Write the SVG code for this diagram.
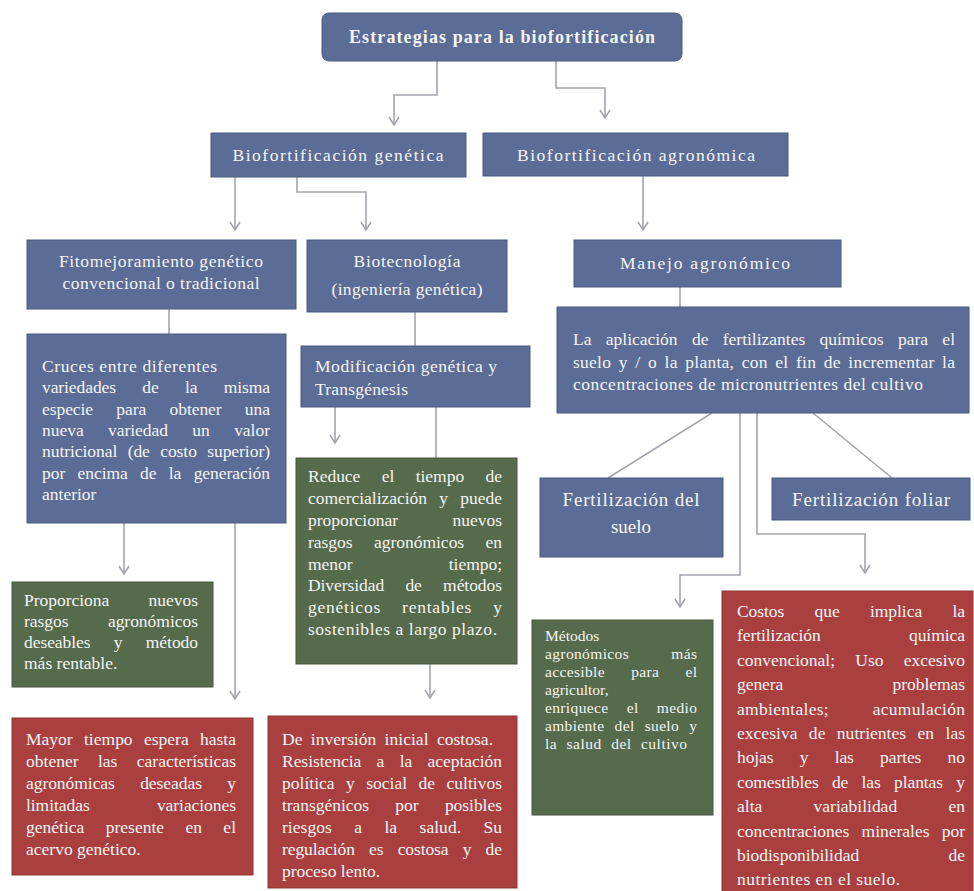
<svg xmlns="http://www.w3.org/2000/svg" width="974" height="891" viewBox="0 0 974 891">
<defs>
<style>
.blue{fill:#5b6d96;stroke:#4a5a80;stroke-width:1}
.green{fill:#566b4b;stroke:#46593d;stroke-width:1}
.red{fill:#a9403f;stroke:#8f3433;stroke-width:1}
text{font-family:"Liberation Serif","Times New Roman",serif;fill:#f4f4f4}
.b{font-size:17.5px}
.s{font-size:15.5px}
.h{font-size:17.5px}
.hl{font-size:19px}
.c{text-anchor:middle}
.title{font-size:18px;font-weight:bold;text-anchor:middle}
.conn path{fill:none;stroke:#a4a4ae;stroke-width:1.6}
</style>
<marker id="arr" markerUnits="userSpaceOnUse" markerWidth="12" markerHeight="12" viewBox="0 0 12 12" refX="10" refY="6" orient="auto"><path d="M2,1 L10,6 L2,11" fill="none" stroke="#a4a4ae" stroke-width="1.6"/></marker>
</defs>
<rect width="974" height="891" fill="#ffffff"/>

<g id="connectors" class="conn">
<path d="M437,61 V95 H394 V125" marker-end="url(#arr)"/>
<path d="M556,61 V88 H605 V118" marker-end="url(#arr)"/>
<path d="M235,177 V230" marker-end="url(#arr)"/>
<path d="M297,177 V192 H366 V230" marker-end="url(#arr)"/>
<path d="M643,176 V230" marker-end="url(#arr)"/>
<path d="M169,309 V334"/>
<path d="M415,312 V346"/>
<path d="M680,287 V307"/>
<path d="M335,407 V443" marker-end="url(#arr)"/>
<path d="M436,407 V458"/>
<path d="M124,523 V574" marker-end="url(#arr)"/>
<path d="M235,523 V699" marker-end="url(#arr)"/>
<path d="M430,664 V698" marker-end="url(#arr)"/>
<path d="M712,413 L608,478"/>
<path d="M813,413 L892,478"/>
<path d="M740,413 V575 H680 V607" marker-end="url(#arr)"/>
<path d="M757,413 V534 H865 V573" marker-end="url(#arr)"/>
</g>

<g id="n_top">
<rect class="blue" x="322" y="13" width="360" height="48" rx="7"/>
<text class="title" x="502" y="43" textLength="306" lengthAdjust="spacing">Estrategias para la biofortificación</text>
</g>

<g id="n_gen">
<rect class="blue" x="211" y="133" width="255" height="44"/>
<text class="h c" x="338" y="161" textLength="211" lengthAdjust="spacing">Biofortificación genética</text>
</g>

<g id="n_agro">
<rect class="blue" x="483" y="133" width="305" height="43"/>
<text class="h c" x="636" y="161" textLength="238" lengthAdjust="spacing">Biofortificación agronómica</text>
</g>

<g id="n_fito">
<rect class="blue" x="27" y="240" width="269" height="69"/>
<text class="b c" x="161" y="267" textLength="204" lengthAdjust="spacing">Fitomejoramiento genético</text>
<text class="b c" x="161" y="289" textLength="197" lengthAdjust="spacing">convencional o tradicional</text>
</g>

<g id="n_biotec">
<rect class="blue" x="307" y="240" width="200" height="72"/>
<text class="b c" x="407" y="267" textLength="107" lengthAdjust="spacing">Biotecnología</text>
<text class="b c" x="407" y="295" textLength="151" lengthAdjust="spacing">(ingeniería genética)</text>
</g>

<g id="n_manejo">
<rect class="blue" x="574" y="240" width="267" height="47"/>
<text class="h c" x="705" y="269" textLength="170" lengthAdjust="spacing">Manejo agronómico</text>
</g>

<g id="n_cruces">
<rect class="blue" x="27" y="334" width="259" height="189"/>
<text class="b" x="42" y="372" textLength="175" lengthAdjust="spacing">Cruces entre diferentes</text>
<text class="b" x="42" y="393" style="word-spacing:22px" textLength="228" lengthAdjust="spacing">variedades de la misma</text>
<text class="b" x="42" y="415" style="word-spacing:19px" textLength="228" lengthAdjust="spacing">especie para obtener una</text>
<text class="b" x="42" y="436" style="word-spacing:20px" textLength="228" lengthAdjust="spacing">nueva variedad un valor</text>
<text class="b" x="42" y="457" style="word-spacing:6px" textLength="228" lengthAdjust="spacing">nutricional (de costo superior)</text>
<text class="b" x="42" y="479" style="word-spacing:8px" textLength="228" lengthAdjust="spacing">por encima de la generación</text>
<text class="b" x="42" y="500">anterior</text>
</g>

<g id="n_modif">
<rect class="blue" x="301" y="346" width="229" height="61"/>
<text class="b" x="315" y="372" textLength="182" lengthAdjust="spacing">Modificación genética y</text>
<text class="b" x="315" y="395" textLength="93" lengthAdjust="spacing">Transgénesis</text>
</g>

<g id="n_aplic">
<rect class="blue" x="557" y="307" width="412" height="106"/>
<text class="b" x="573" y="345" style="word-spacing:10px" textLength="382" lengthAdjust="spacing">La aplicación de fertilizantes químicos para el</text>
<text class="b" x="573" y="368" style="word-spacing:3px" textLength="382" lengthAdjust="spacing">suelo y / o la planta, con el fin de incrementar la</text>
<text class="b" x="573" y="390" textLength="350" lengthAdjust="spacing">concentraciones de micronutrientes del cultivo</text>
</g>

<g id="n_reduce">
<rect class="green" x="296" y="458" width="221" height="206"/>
<text class="b" x="308" y="482" style="word-spacing:17px" textLength="194" lengthAdjust="spacing">Reduce el tiempo de</text>
<text class="b" x="308" y="504" style="word-spacing:8px" textLength="194" lengthAdjust="spacing">comercialización y puede</text>
<text class="b" x="308" y="526" style="word-spacing:50px" textLength="194" lengthAdjust="spacing">proporcionar nuevos</text>
<text class="b" x="308" y="548" style="word-spacing:17px" textLength="194" lengthAdjust="spacing">rasgos agronómicos en</text>
<text class="b" x="308" y="570" style="word-spacing:92px" textLength="194" lengthAdjust="spacing">menor tiempo;</text>
<text class="b" x="308" y="591" style="word-spacing:17px" textLength="194" lengthAdjust="spacing">Diversidad de métodos</text>
<text class="b" x="308" y="613" style="word-spacing:16px" textLength="194" lengthAdjust="spacing">genéticos rentables y</text>
<text class="b" x="308" y="635" textLength="189" lengthAdjust="spacing">sostenibles a largo plazo.</text>
</g>

<g id="n_prop">
<rect class="green" x="12" y="582" width="201" height="105"/>
<text class="b" x="24" y="606" style="word-spacing:35px" textLength="174" lengthAdjust="spacing">Proporciona nuevos</text>
<text class="b" x="24" y="627" style="word-spacing:35px" textLength="174" lengthAdjust="spacing">rasgos agronómicos</text>
<text class="b" x="24" y="648" style="word-spacing:19px" textLength="174" lengthAdjust="spacing">deseables y método</text>
<text class="b" x="24" y="669">más rentable.</text>
</g>

<g id="n_mayor">
<rect class="red" x="12" y="718" width="241" height="157"/>
<text class="b" x="26" y="745" style="word-spacing:7px" textLength="210" lengthAdjust="spacing">Mayor tiempo espera hasta</text>
<text class="b" x="26" y="767" style="word-spacing:15px" textLength="210" lengthAdjust="spacing">obtener las características</text>
<text class="b" x="26" y="789" style="word-spacing:21px" textLength="210" lengthAdjust="spacing">agronómicas deseadas y</text>
<text class="b" x="26" y="811" style="word-spacing:63px" textLength="210" lengthAdjust="spacing">limitadas variaciones</text>
<text class="b" x="26" y="833" style="word-spacing:17px" textLength="210" lengthAdjust="spacing">genética presente en el</text>
<text class="b" x="26" y="855">acervo genético.</text>
</g>

<g id="n_deinv">
<rect class="red" x="268" y="716" width="249" height="172"/>
<text class="b" x="282" y="745" style="word-spacing:4px" textLength="211" lengthAdjust="spacing">De inversión inicial costosa.</text>
<text class="b" x="282" y="767" style="word-spacing:11px" textLength="220" lengthAdjust="spacing">Resistencia a la aceptación</text>
<text class="b" x="282" y="789" style="word-spacing:7px" textLength="220" lengthAdjust="spacing">política y social de cultivos</text>
<text class="b" x="282" y="811" style="word-spacing:22px" textLength="220" lengthAdjust="spacing">transgénicos por posibles</text>
<text class="b" x="282" y="833" style="word-spacing:18px" textLength="220" lengthAdjust="spacing">riesgos a la salud. Su</text>
<text class="b" x="282" y="855" style="word-spacing:10px" textLength="220" lengthAdjust="spacing">regulación es costosa y de</text>
<text class="b" x="282" y="877">proceso lento.</text>
</g>

<g id="n_fsuelo">
<rect class="blue" x="540" y="478" width="183" height="79"/>
<text class="hl c" x="631" y="506" textLength="137" lengthAdjust="spacing">Fertilización del</text>
<text class="hl c" x="631" y="533">suelo</text>
</g>

<g id="n_ffoliar">
<rect class="blue" x="772" y="478" width="198" height="42"/>
<text class="hl c" x="871" y="506" textLength="158" lengthAdjust="spacing">Fertilización foliar</text>
</g>

<g id="n_metodos">
<rect class="green" x="532" y="620" width="181" height="195"/>
<text class="s" x="545" y="641">Métodos</text>
<text class="s" x="545" y="659" style="word-spacing:38px" textLength="152" lengthAdjust="spacing">agronómicos más</text>
<text class="s" x="545" y="677" style="word-spacing:22px" textLength="152" lengthAdjust="spacing">accesible para el</text>
<text class="s" x="545" y="695">agricultor,</text>
<text class="s" x="545" y="713" style="word-spacing:14px" textLength="152" lengthAdjust="spacing">enriquece el medio</text>
<text class="s" x="545" y="731" style="word-spacing:6px" textLength="152" lengthAdjust="spacing">ambiente del suelo y</text>
<text class="s" x="545" y="749" style="word-spacing:5px" textLength="142" lengthAdjust="spacing">la salud del cultivo</text>
</g>

<g id="n_costos">
<rect class="red" x="722" y="591" width="251" height="301"/>
<text class="b" x="737" y="617" style="word-spacing:26px" textLength="228" lengthAdjust="spacing">Costos que implica la</text>
<text class="b" x="737" y="641" style="word-spacing:84px" textLength="228" lengthAdjust="spacing">fertilización química</text>
<text class="b" x="737" y="666" style="word-spacing:16px" textLength="228" lengthAdjust="spacing">convencional; Uso excesivo</text>
<text class="b" x="737" y="690" style="word-spacing:105px" textLength="228" lengthAdjust="spacing">genera problemas</text>
<text class="b" x="737" y="715" style="word-spacing:39px" textLength="228" lengthAdjust="spacing">ambientales; acumulación</text>
<text class="b" x="737" y="739" style="word-spacing:7px" textLength="228" lengthAdjust="spacing">excesiva de nutrientes en las</text>
<text class="b" x="737" y="763" style="word-spacing:22px" textLength="228" lengthAdjust="spacing">hojas y las partes no</text>
<text class="b" x="737" y="788" style="word-spacing:9px" textLength="228" lengthAdjust="spacing">comestibles de las plantas y</text>
<text class="b" x="737" y="812" style="word-spacing:47px" textLength="228" lengthAdjust="spacing">alta variabilidad en</text>
<text class="b" x="737" y="837" style="word-spacing:8px" textLength="228" lengthAdjust="spacing">concentraciones minerales por</text>
<text class="b" x="737" y="861" style="word-spacing:85px" textLength="228" lengthAdjust="spacing">biodisponibilidad de</text>
<text class="b" x="737" y="885" textLength="163" lengthAdjust="spacing">nutrientes en el suelo.</text>
</g>
</svg>
